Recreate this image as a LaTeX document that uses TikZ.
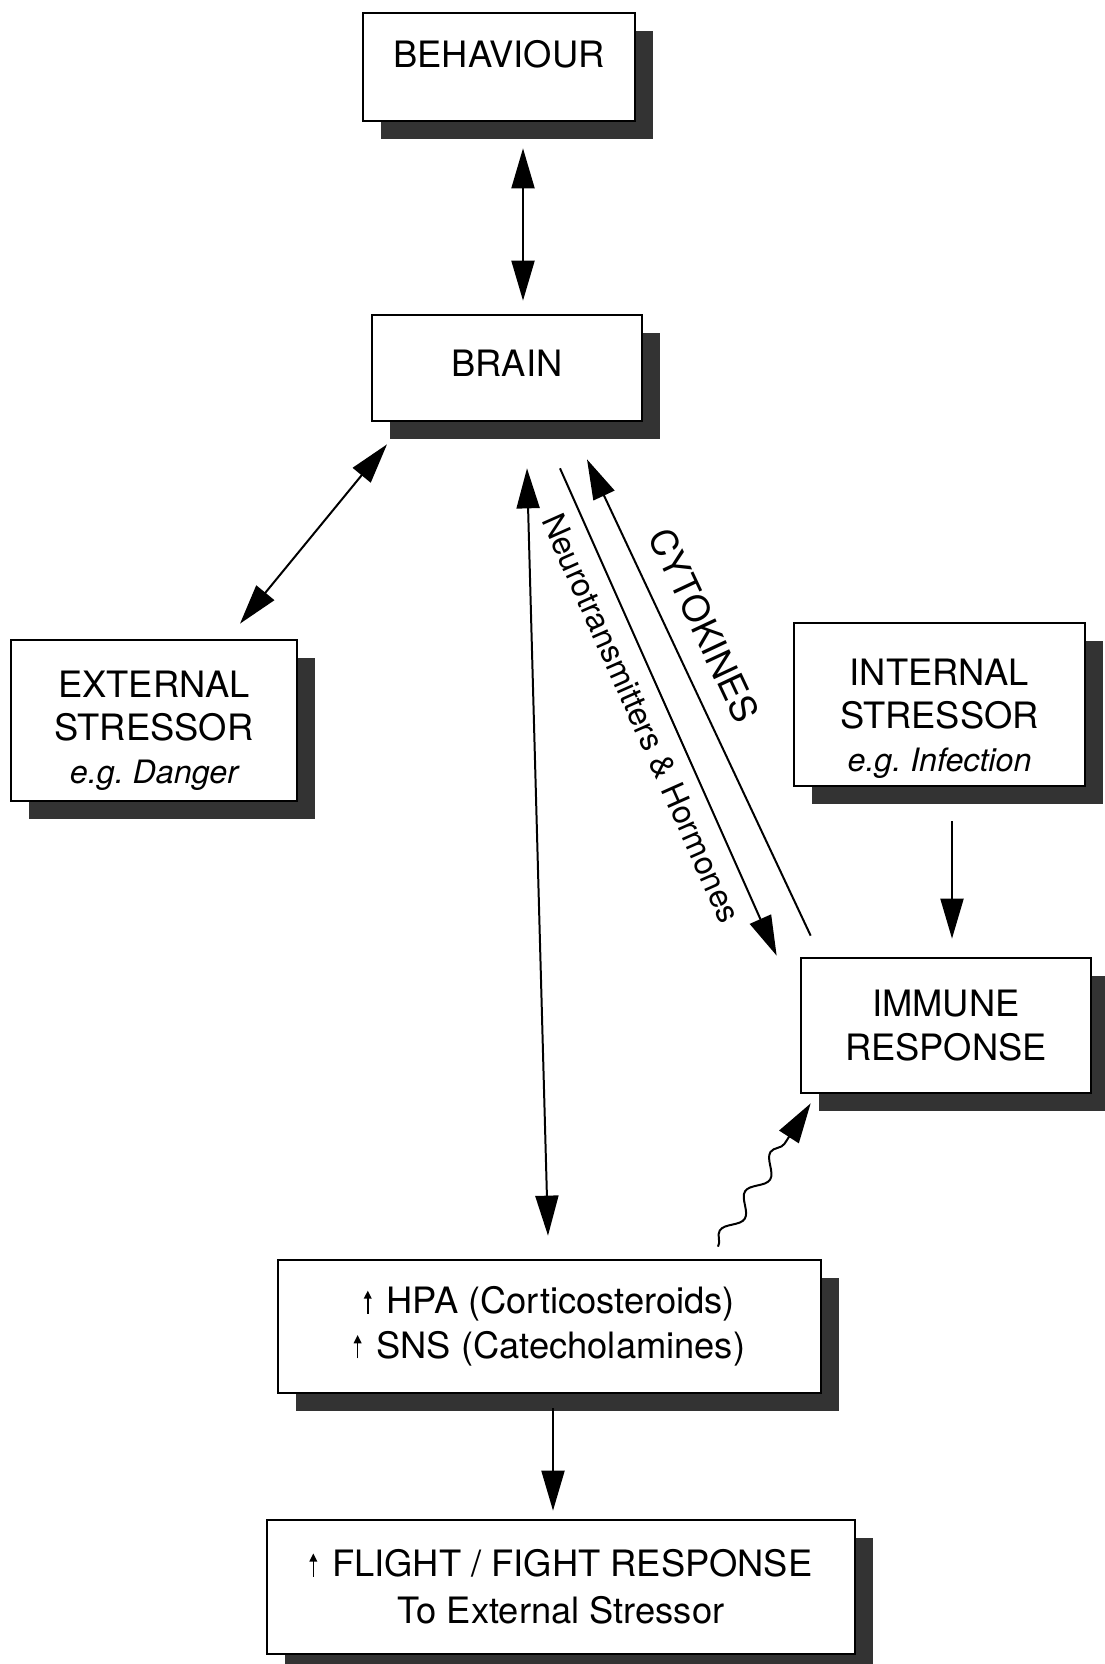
\documentclass[tikz,border=0pt]{standalone}
\usepackage{fontspec}
\setmainfont{TeX Gyre Heros}
\usetikzlibrary{arrows.meta,calc,shadows,decorations.pathmorphing}
\definecolor{shade}{gray}{0.2}
\frenchspacing
\newcommand{\uparr}{\tikz[baseline=0pt]\draw[line width=1.4pt, -{Triangle[length=7pt, width=6.5pt]}] (0pt,0pt) -- (0pt,20pt);\hspace{0.45cm}}

\begin{document}
\begin{tikzpicture}[x=0.03cm, y=-0.03cm,
    every node/.style={font=\fontsize{31}{37}\selectfont},
    >={Triangle[length=1.2cm, width=0.69cm]},
    box/.style={draw, line width=2.3pt, fill=white, align=center, inner sep=0pt,
      drop shadow={shadow xshift=0.54cm, shadow yshift=-0.54cm, fill=shade, opacity=1}},
    link/.style={line width=1.7pt}]
    \useasboundingbox (0,0) rectangle (1105,1664);
    \node[box, minimum width=8.16cm, minimum height=3.24cm, text depth=0.8cm] (behav) at (499,67) {BEHAVIOUR};
    \node[box, minimum width=8.1cm, minimum height=3.18cm, text depth=0.3cm] (brain) at (507,368) {BRAIN};
    \node[box, minimum width=8.58cm, minimum height=4.83cm] (ext) at (154,720.5)
      {\rule{0pt}{40pt}EXTERNAL\\STRESSOR\\{\fontsize{27.5}{37}\selectfont\itshape e.g. Danger}};
    \node[box, minimum width=8.73cm, minimum height=4.89cm] (int) at (939.5,704.5)
      {\rule{0pt}{47pt}INTERNAL\\STRESSOR\\{\fontsize{27.5}{37}\selectfont\itshape e.g. Infection}};
    \node[box, minimum width=8.7cm, minimum height=4.05cm] (imm) at (946,1025.5)
      {IMMUNE\\RESPONSE};
    \node[box, minimum width=16.29cm, minimum height=3.99cm, font=\fontsize{31}{38}\selectfont] (hpa) at (549.5,1326.5)
      {\uparr HPA (Corticosteroids)\\\uparr SNS (Catecholamines)};
    \node[box, minimum width=17.64cm, minimum height=4.02cm, font=\fontsize{31}{40}\selectfont] (flight) at (561,1587)
      {\uparr FLIGHT / FIGHT RESPONSE\\To External Stressor};

    \draw[link, <->] ($(behav.south)+(24,26)$) -- ($(brain.north)+(16,-13)$);
    \draw[link, <->] ($(brain.south)+(-120,22)$) -- ($(ext.north)+(86,-15)$);
    \draw[link, <->] ($(brain.south)+(20,46)$) -- ($(hpa.north)+(-1.5,-23)$);
    \draw[link, ->] ($(brain.south)+(53,46)$) -- ($(imm.north west)+(-23,-1)$)
      node[pos=0.49, sloped, below=0.3cm, font=\fontsize{27.5}{32}\selectfont] (neuro) {Neurotransmitters \& Hormones};
    \draw[link, <-] ($(brain.south)+(80,37)$) -- ($(imm.north west)+(11,-21)$)
      node[pos=0.38, sloped, above=0.5cm] (cyto) {CYTOKINES};
    \draw[link, ->] ($(int.south)+(12.5,34)$) -- ($(imm.north)+(6,-18)$);
    \draw[link, ->, decorate, decoration={snake, amplitude=0.22cm, segment length=1.4cm, post length=1.1cm}]
      ($(hpa.north)+(168.5,-12)$) -- ($(imm.south west)+(11,9)$);
    \draw[link, ->] ($(hpa.south)+(3.5,14)$) -- ($(flight.north)+(-8,-8)$);
  \end{tikzpicture}
\end{document}
